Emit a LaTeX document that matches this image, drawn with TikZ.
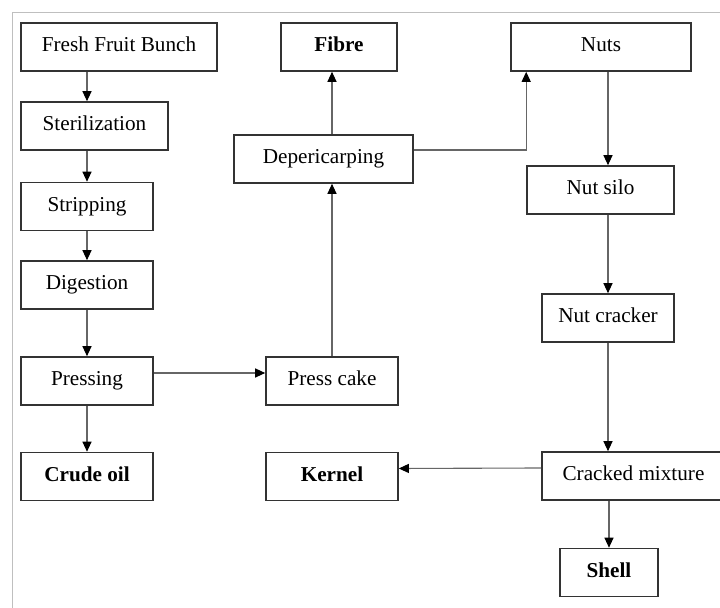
\documentclass[tikz,border=0pt]{standalone}
\usepackage{fontspec}
\setmainfont{Liberation Serif}
\usepackage{tikz}
\usetikzlibrary{arrows.meta}
\definecolor{boxline}{gray}{0.2}
\definecolor{flowline}{gray}{0.4}
\definecolor{frameline}{gray}{0.75}
\tikzset{
    process-box/.style = {draw=boxline, fill=white, line width=0.8pt, rectangle, inner sep=0pt, minimum height=24pt, text height=7.5pt, text depth=2.5pt, font=\fontsize{10.6}{12}\selectfont},
    product-box/.style = {process-box, font=\fontsize{10.6}{12}\selectfont\bfseries},
    flow-arrow/.style = {draw=flowline, line width=0.55pt, -{Triangle[length=5pt,width=4.5pt,color=black]}},
}

\begin{document}
\begin{tikzpicture}[x=0.5pt,y=-0.5pt]
\useasboundingbox[fill=white] (0,0) rectangle (720,608);
\draw[frameline, line width=0.5pt] (13,608) -- (13,13) -- (720,13);
% oil line
\node[process-box, minimum width=98pt] (fresh) at (119,47) {Fresh Fruit Bunch};
\node[process-box, minimum width=73.5pt] (steril) at (94.5,126) {Sterilization};
\node[process-box, minimum width=66pt] (strip) at (87,206.5) {Stripping};
\node[process-box, minimum width=66pt] (digest) at (87,285) {Digestion};
\node[process-box, minimum width=66pt] (press) at (87,381) {Pressing};
\node[product-box, minimum width=66pt] (crude) at (87,476.5) {Crude oil};
% cake line
\node[product-box, minimum width=58pt] (fibre) at (339,47) {Fibre};
\node[process-box, minimum width=89.5pt] (deperi) at (323.5,159) {Depericarping};
\node[process-box, minimum width=66pt] (cake) at (332,381) {Press cake};
\node[product-box, minimum width=66pt] (kernel) at (332,476.5) {Kernel};
% nut line
\node[process-box, minimum width=90pt] (nuts) at (601,47) {Nuts};
\node[process-box, minimum width=73.5pt] (silo) at (600.5,190) {Nut silo};
\node[process-box, minimum width=66pt] (cracker) at (608,318) {Nut cracker};
\node[process-box, minimum width=91.5pt] (cracked) at (633.5,476) {Cracked mixture};
\node[product-box, minimum width=49pt] (shell) at (609,572.5) {Shell};

\draw[flow-arrow] (fresh.south -| strip.center) -- (steril.north -| strip.center);
\draw[flow-arrow] (steril.south -| strip.center) -- (strip.north);
\draw[flow-arrow] (strip.south) -- (digest.north);
\draw[flow-arrow] (digest.south) -- (press.north);
\draw[flow-arrow] (press.south) -- (crude.north);
\draw[flow-arrow] ([yshift=4pt]press.east) -- ([yshift=4pt]cake.west);
\draw[flow-arrow] (cake.north) -- (deperi.south -| cake.north);
\draw[flow-arrow] (deperi.north -| cake.north) -- (fibre.south -| cake.north);
\draw[flow-arrow] ([yshift=4.5pt]deperi.east) -| (nuts.south -| silo.west);
\draw[flow-arrow] (nuts.south -| cracker.center) -- (silo.north -| cracker.center);
\draw[flow-arrow] (silo.south -| cracker.center) -- (cracker.north);
\draw[flow-arrow] (cracker.south) -- (cracked.north -| cracker.south);
\draw[flow-arrow] (cracked.south -| shell.north) -- (shell.north);
\draw[flow-arrow] ([yshift=4pt]cracked.west) -- ([yshift=4pt]kernel.east);
\end{tikzpicture}
\end{document}
